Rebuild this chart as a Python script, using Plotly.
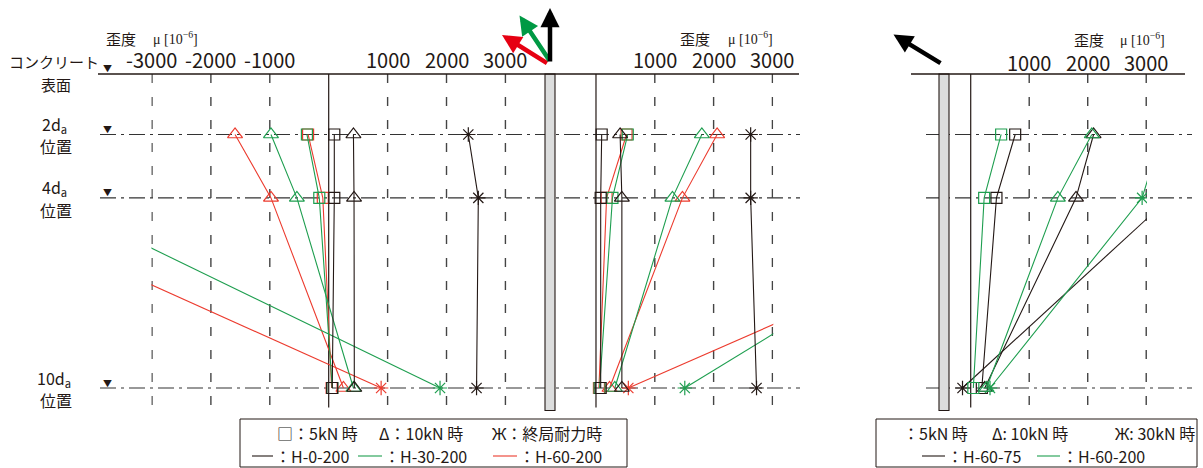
import plotly.graph_objects as go

W, H = 1203, 468
def px(x): return x / W
def py(y): return 1 - y / H

FONT = "Noto Sans CJK JP, Noto Sans, sans-serif"
SERIF = "Liberation Serif, DejaVu Serif, serif"
INK = "#231815"
BLACK = "#231815"
GREEN = "#1e9e4f"
RED = "#ec3b2e"

# ---------------- data ----------------
depths = [2, 4, 10]                      # x d_a below concrete surface
depth_labels = ["2d<sub>a</sub>", "4d<sub>a</sub>", "10d<sub>a</sub>"]

# panel 1 (left face) strain [1e-6]
a_h0_5 = [95, 95, 60]
a_h0_10 = [420, 430, 435]
a_h0_ult = [2370, 2540, 2510]
a_h30_5 = [-370, -160, 60]
a_h30_10 = [-980, -540, 420]
a_h30_ult = [None, -4770, 1890]
a_h60_5 = [-350, -100, 50]
a_h60_10 = [-1590, -980, 250]
a_h60_ult = [None, -6300, 890]

# panel 2 (right face)
b_h0_5 = [97, 80, 80]
b_h0_10 = [410, 440, 440]
b_h0_ult = [2630, 2630, 2730]
b_h30_5 = [540, 280, 60]
b_h30_10 = [1800, 1300, 320]
b_h30_ult = [None, 6800, 1510]
b_h60_5 = [520, 180, 50]
b_h60_10 = [2060, 1470, 230]
b_h60_ult = [None, 7930, 550]

# panel 3 (H-60-75 vs H-60-200)
c_h75_5 = [760, 440, 190]
c_h75_10 = [2100, 1800, 240]
c_h75_30 = [None, 3400, -140]
c_h200_5 = [520, 230, 45]
c_h200_10 = [2070, 1490, 270]
c_h200_30 = [3260, 2930, 330]

ticks_a = [-3000, -2000, -1000, 1000, 2000, 3000]
ticks_b = [1000, 2000, 3000]
ticks_c = [1000, 2000, 3000]

fig = go.Figure()

def add(xs, color, symbol, size, axis):
    mk = dict(symbol=symbol, size=size, color=color,
              line=dict(color=color, width=1.2))
    fig.add_trace(go.Scatter(x=xs, y=depths, mode="lines+markers",
                             line=dict(color=color, width=1.1),
                             marker=mk, xaxis=axis, yaxis="y",
                             showlegend=False, hoverinfo="skip"))

SQ, TR, ST = "square-open", "triangle-up-open", "asterisk-open"
for xs, c, s, z in [(a_h60_ult, RED, ST, 12), (a_h60_10, RED, TR, 13), (a_h60_5, RED, SQ, 11),
                    (a_h30_ult, GREEN, ST, 12), (a_h30_10, GREEN, TR, 13), (a_h30_5, GREEN, SQ, 11),
                    (a_h0_ult, BLACK, ST, 12), (a_h0_10, BLACK, TR, 13), (a_h0_5, BLACK, SQ, 11)]:
    add(xs, c, s, z, "x")
for xs, c, s, z in [(b_h60_ult, RED, ST, 12), (b_h60_10, RED, TR, 13), (b_h60_5, RED, SQ, 11),
                    (b_h30_ult, GREEN, ST, 12), (b_h30_10, GREEN, TR, 13), (b_h30_5, GREEN, SQ, 11),
                    (b_h0_ult, BLACK, ST, 12), (b_h0_10, BLACK, TR, 13), (b_h0_5, BLACK, SQ, 11)]:
    add(xs, c, s, z, "x2")
for xs, c, s, z in [(c_h75_30, BLACK, ST, 12), (c_h75_10, BLACK, TR, 13), (c_h75_5, BLACK, SQ, 11),
                    (c_h200_30, GREEN, ST, 12), (c_h200_10, GREEN, TR, 13), (c_h200_5, GREEN, SQ, 11)]:
    add(xs, c, s, z, "x3")

shapes = []
ann = []

# row lines (dash-dot)
for d in depths:
    shapes.append(dict(type="line", xref="paper", yref="y", x0=px(100), x1=px(800), y0=d, y1=d,
                       line=dict(color="#333", width=1.2, dash="16px,5px,3px,5px"), layer="below"))
    shapes.append(dict(type="line", xref="paper", yref="y", x0=px(926), x1=px(1192), y0=d, y1=d,
                       line=dict(color="#333", width=1.2, dash="16px,5px,3px,5px"), layer="below"))

# vertical dashed grid
for axn, tv in [("x", ticks_a), ("x2", ticks_b), ("x3", ticks_c)]:
    for v in tv:
        shapes.append(dict(type="line", xref=axn, yref="paper", x0=v, x1=v, y0=py(74), y1=py(405),
                           line=dict(color="#444", width=1.4, dash="9px,14px"), layer="below"))
    shapes.append(dict(type="line", xref=axn, yref="paper", x0=0, x1=0, y0=py(74), y1=py(407.5),
                       line=dict(color=INK, width=1.2), layer="below"))

# bars (anchor bolts)
for x0 in (545, 939):
    shapes.append(dict(type="rect", xref="paper", yref="paper", x0=px(x0), x1=px(x0 + 10),
                       y0=py(74), y1=py(410.5), fillcolor="#dcdddd", line=dict(color=INK, width=1.1)))
# concrete surface lines
shapes.append(dict(type="line", xref="paper", yref="paper", x0=px(98), x1=px(799), y0=py(74), y1=py(74),
                   line=dict(color=INK, width=1.5)))
shapes.append(dict(type="line", xref="paper", yref="paper", x0=px(911), x1=px(1185), y0=py(74), y1=py(74),
                   line=dict(color=INK, width=1.5)))

def text(x, y, s, size=17, font=FONT, xanchor="center", xref="paper", yref="paper", yshift=0):
    ann.append(dict(x=x, y=y, xref=xref, yref=yref, text=s, showarrow=False, xanchor=xanchor,
                    yanchor="middle", yshift=yshift, font=dict(family=font, size=size, color=INK)))

# tick labels
for v in ticks_a:
    text(v, py(60), str(v), 20, xref="x")
for v in ticks_b:
    text(v, py(60), str(v), 20, xref="x2")
for v in ticks_c:
    text(v, py(62.5), str(v), 20, xref="x3")

# axis titles
for xk, xm, yy in [(121, 175, 38), (695, 750, 38), (1089, 1142, 39)]:
    text(px(xk), py(yy), "歪度", 15)
    text(px(xm), py(yy), "μ [10<sup>−6</sup>]", 14, font=SERIF)

# surface label
text(px(54), py(62), "コンクリート", 15)
text(px(56), py(84), "表面", 15)
text(px(107), py(68), "▼", 9)

# depth labels
for d, lab in zip(depths, depth_labels):
    text(px(54), d, lab, 16, yref="y", yshift=10)
    text(px(56), d, "位置", 16, yref="y", yshift=-12)
    text(px(107), d, "▼", 9, yref="y", yshift=5)

# load arrows
for tip, tail, col in [((502, 35), (548.5, 64), "#e60012"), ((519.5, 15.5), (550.5, 62), "#009944"),
                       ((550, 8), (550, 63), "#000000"), ((893.5, 34.5), (942, 64), "#000000")]:
    ann.append(dict(x=px(tip[0]), y=py(tip[1]), xref="paper", yref="paper", text="", showarrow=True,
                    ax=tail[0] - tip[0], ay=tail[1] - tip[1], arrowhead=2, arrowsize=0.85,
                    arrowwidth=4.5, arrowcolor=col, standoff=0, startstandoff=0))

# legends
LF = 16
shapes.append(dict(type="rect", xref="paper", yref="paper", x0=px(240), x1=px(627), y0=py(419), y1=py(467),
                   line=dict(color=INK, width=1), fillcolor="white"))
shapes.append(dict(type="rect", xref="paper", yref="paper", x0=px(876), x1=px(1197), y0=py(419), y1=py(467),
                   line=dict(color=INK, width=1), fillcolor="white"))
text(px(275), py(433), "□：5kN 時", LF, xanchor="left")
text(px(377), py(433), "Δ：10kN 時", LF, xanchor="left")
text(px(490), py(433), "Ж：終局耐力時", LF, xanchor="left")
for x0, x1, col, lab in [(252, 273, BLACK, "：H-0-200"), (358, 382, GREEN, "：H-30-200"),
                         (493, 517, RED, "：H-60-200")]:
    shapes.append(dict(type="line", xref="paper", yref="paper", x0=px(x0), x1=px(x1), y0=py(456), y1=py(456),
                       line=dict(color=col, width=1.1)))
    text(px(x1), py(456), lab, LF, xanchor="left")
text(px(901), py(433), "：5kN 時", LF, xanchor="left")
text(px(990), py(433), "Δ: 10kN 時", LF, xanchor="left")
text(px(1113), py(433), "Ж: 30kN 時", LF, xanchor="left")
for x0, x1, col, lab in [(922, 945, BLACK, "：H-60-75"), (1037, 1060, GREEN, "：H-60-200")]:
    shapes.append(dict(type="line", xref="paper", yref="paper", x0=px(x0), x1=px(x1), y0=py(456), y1=py(456),
                       line=dict(color=col, width=1.1)))
    text(px(x1), py(456), lab, LF, xanchor="left")

hidden = dict(showgrid=False, zeroline=False, showticklabels=False, ticks="", showline=False, fixedrange=True)
fig.update_layout(
    width=W, height=H, margin=dict(l=0, r=0, t=0, b=0),
    paper_bgcolor="white", plot_bgcolor="rgba(0,0,0,0)",
    xaxis=dict(domain=[px(151.4), px(545)], range=[-3010, 3672], anchor="y", **hidden),
    xaxis2=dict(domain=[px(555), px(773.3)], range=[-697, 3015], anchor="y", **hidden),
    xaxis3=dict(domain=[px(949), px(1147.1)], range=[-371, 3015], anchor="y", **hidden),
    yaxis=dict(domain=[0, 1], range=[12.5244, -2.2436], **hidden),
    shapes=shapes, annotations=ann, showlegend=False,
)
fig.write_html("out.html")
